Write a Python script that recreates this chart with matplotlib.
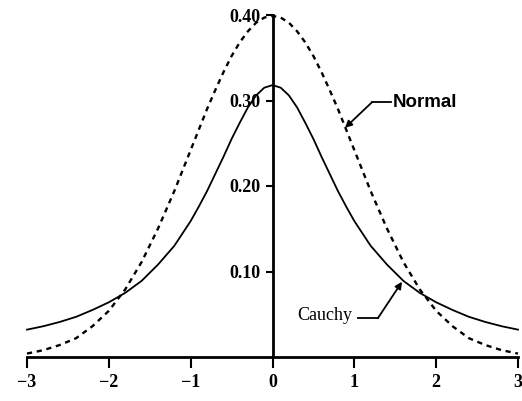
import matplotlib
matplotlib.use("Agg")
import matplotlib.pyplot as plt

# values (density vs z)
x_vals = [-3.0, -2.8, -2.6, -2.4, -2.2, -2.0, -1.8, -1.6, -1.4, -1.2, -1.0,
          -0.9, -0.8, -0.7, -0.6, -0.5, -0.4, -0.3, -0.2, -0.1, 0.0,
          0.1, 0.2, 0.3, 0.4, 0.5, 0.6, 0.7, 0.8, 0.9, 1.0,
          1.2, 1.4, 1.6, 1.8, 2.0, 2.2, 2.4, 2.6, 2.8, 3.0]
normal_vals = [0.004, 0.008, 0.014, 0.022, 0.036, 0.054, 0.079, 0.111, 0.150,
               0.194, 0.242,
               0.266, 0.290, 0.312, 0.333, 0.352, 0.368, 0.381, 0.391, 0.397,
               0.399,
               0.397, 0.391, 0.381, 0.368, 0.352, 0.333, 0.312, 0.290, 0.266,
               0.242,
               0.194, 0.150, 0.111, 0.079, 0.054, 0.036, 0.022, 0.014, 0.008,
               0.004]
cauchy_vals = [0.032, 0.036, 0.041, 0.047, 0.055, 0.064, 0.075, 0.089, 0.108,
               0.130, 0.159,
               0.176, 0.194, 0.214, 0.234, 0.255, 0.274, 0.292, 0.306, 0.315,
               0.318,
               0.315, 0.306, 0.292, 0.274, 0.255, 0.234, 0.214, 0.194, 0.176,
               0.159,
               0.130, 0.108, 0.089, 0.075, 0.064, 0.055, 0.047, 0.041, 0.036,
               0.032]
x_ticks = [-3, -2, -1, 0, 1, 2, 3]
x_tick_labels = ["\u22123", "\u22122", "\u22121", "0", "1", "2", "3"]
y_ticks = [0.10, 0.20, 0.30, 0.40]
y_tick_labels = ["0.10", "0.20", "0.30", "0.40"]

plt.rcParams['font.family'] = ['Liberation Serif', 'DejaVu Serif']

fig = plt.figure(figsize=(5.22, 4.01), dpi=100)
ax = fig.add_axes([27/522, 44/401, 491/522, 342/401])

ax.plot(x_vals, normal_vals, color='black', lw=1.7, linestyle=(0, (2.2, 2.0)),
        clip_on=False)
ax.plot(x_vals, cauchy_vals, color='black', lw=1.3, clip_on=False)

ax.set_xlim(-3, 3)
ax.set_ylim(0, 0.40)

for s in ['top', 'right']:
    ax.spines[s].set_visible(False)
ax.spines['left'].set_position(('data', 0))
ax.spines['left'].set_linewidth(2.0)
ax.spines['bottom'].set_linewidth(2.0)

ax.set_xticks(x_ticks)
ax.set_xticklabels(x_tick_labels)
ax.set_yticks(y_ticks)
ax.set_yticklabels(y_tick_labels)
ax.tick_params(axis='x', direction='out', length=8, width=1.5, pad=4,
               labelsize=13)
ax.tick_params(axis='y', direction='out', length=5, width=1.5, pad=4,
               labelsize=13)
for lab in ax.get_xticklabels() + ax.get_yticklabels():
    lab.set_fontweight('bold')

# Normal label with leader
ax.text(1.47, 0.298, "Normal", fontsize=13.5, fontweight='bold',
        ha='left', va='center', family=['Liberation Sans', 'DejaVu Sans'])
ax.plot([1.216, 1.45], [0.298, 0.298], color='black', lw=1.3)
ax.annotate("", xy=(0.886, 0.268), xytext=(1.216, 0.298),
            arrowprops=dict(arrowstyle='-|>', color='black', lw=1.3,
                            mutation_scale=10, shrinkA=0, shrinkB=0))

# Cauchy label with leader
ax.text(0.98, 0.048, "Cauchy", fontsize=13, ha='right', va='center')
ax.plot([1.045, 1.289], [0.0456, 0.0456], color='black', lw=1.3)
ax.annotate("", xy=(1.583, 0.088), xytext=(1.289, 0.0456),
            arrowprops=dict(arrowstyle='-|>', color='black', lw=1.3,
                            mutation_scale=10, shrinkA=0, shrinkB=0))

fig.savefig("out.png", dpi=100)
